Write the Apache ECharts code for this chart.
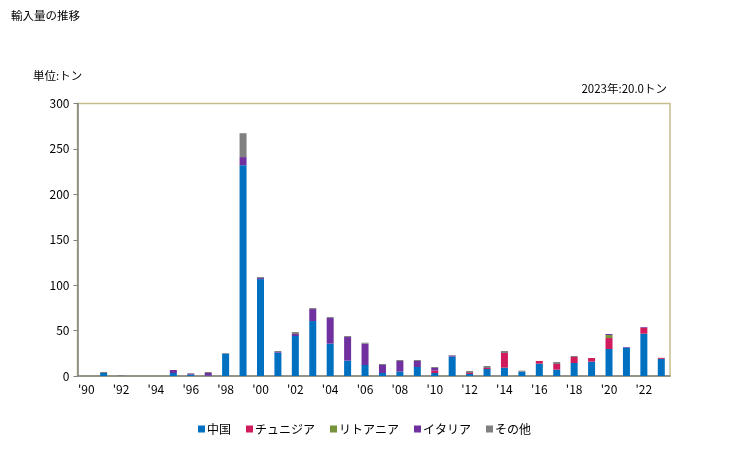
<!DOCTYPE html>
<html><head><meta charset="utf-8">
<script src="https://cdn.jsdelivr.net/npm/echarts@6/dist/echarts.min.js"></script>
<style>html,body{margin:0;padding:0;background:#fff}#c{width:729px;height:450px}</style>
</head><body><div id="c"></div>
<script>
const years = ["'90","'91","'92","'93","'94","'95","'96","'97","'98","'99","'00","'01","'02","'03","'04","'05","'06","'07","'08","'09","'10","'11","'12","'13","'14","'15","'16","'17","'18","'19","'20","'21","'22","'23"];
const china    = [0,3.3,0,0,0,3.3,1.5,0.4,24.6,232,106.7,25.7,44,60.5,35.6,16.9,12.1,3.3,4.8,9.9,3.3,21.3,2.2,7.7,9.2,4.8,13.6,7,14.3,15.8,29.7,31.2,46.6,18.9];
const tunisia  = [0,0,0,0,0,0,0,0,0,0,0,0,0,0,0,0,0,0,0,0,2.6,0,1.1,1.1,16.1,0,2.9,6.2,6.6,4,12.1,0,6.6,1.1];
const lithuania= [0,0,0,0,0,0,0,0,0,0,0,0,0,0,0,0,0,0,0,0,0,0,0,0,0,0,0,0,0,0,3.3,0,0,0];
const italy    = [0,0,0,0,0,3.3,1.1,2.9,0,9,1.1,0.7,2.2,13.2,28.2,26,23.5,8.8,11.7,6.6,2.9,1.1,0,0,0,0,0,0,0,0,1.1,0.7,0.7,0];
const others   = [0,1.1,1.1,0,0,0,0.7,1.1,0.7,26.3,1.1,1.1,2.2,1.1,1.1,1.1,1.1,1.1,1.1,1.1,1.1,0.7,2.2,2.2,2.2,1.1,0,2.2,1.1,0,0,0,0,0];
const yTicks = [0,50,100,150,200,250,300];
const names = ['中国','チュニジア','リトアニア','イタリア','その他'];
const colors = ['#0070c0','#d01c5c','#77933c','#7030a0','#808080'];
const data = [china,tunisia,lithuania,italy,others];
const font = '"Noto Sans CJK JP", sans-serif';
const chart = echarts.init(document.getElementById('c'));
chart.setOption({
  animation:false,
  textStyle:{fontFamily:font},
  title:[
    {text:'輸入量の推移',left:6,top:5,textStyle:{fontSize:11.5,fontWeight:'normal',color:'#000',fontFamily:font}},
    {text:'単位:トン',left:28,top:65,textStyle:{fontSize:11.5,fontWeight:'normal',color:'#000',fontFamily:font}},
    {text:'2023年:20.0トン',right:57,top:78,textStyle:{fontSize:11.5,fontWeight:'normal',color:'#000',fontFamily:font}}
  ],
  legend:{bottom:10,left:'center',itemWidth:7,itemHeight:7,itemGap:15,icon:'rect',
    textStyle:{fontSize:12,color:'#000',fontFamily:font,padding:[0,0,0,-3]},data:names},
  grid:{left:77.5,right:59,top:103.5,bottom:74,show:true,borderColor:'#c8bc8c',borderWidth:1.5,containLabel:false},
  xAxis:{type:'category',data:years,
    axisLine:{lineStyle:{color:'#808080',width:1.5}},axisTick:{show:false},
    axisLabel:{interval:1,color:'#000',fontSize:12,margin:7,fontFamily:font}},
  yAxis:{type:'value',min:0,max:300,interval:50,
    axisLine:{show:true,lineStyle:{color:'#808080',width:1.5}},
    axisTick:{show:true,length:4,lineStyle:{color:'#808080'}},
    splitLine:{show:false},
    axisLabel:{color:'#000',fontSize:12,margin:8,fontFamily:font}},
  series:data.map((d,i)=>({name:names[i],type:'bar',stack:'a',barWidth:7,
    itemStyle:{color:colors[i]},data:d.map(v=>v===0?null:v)}))
});
</script></body></html>
